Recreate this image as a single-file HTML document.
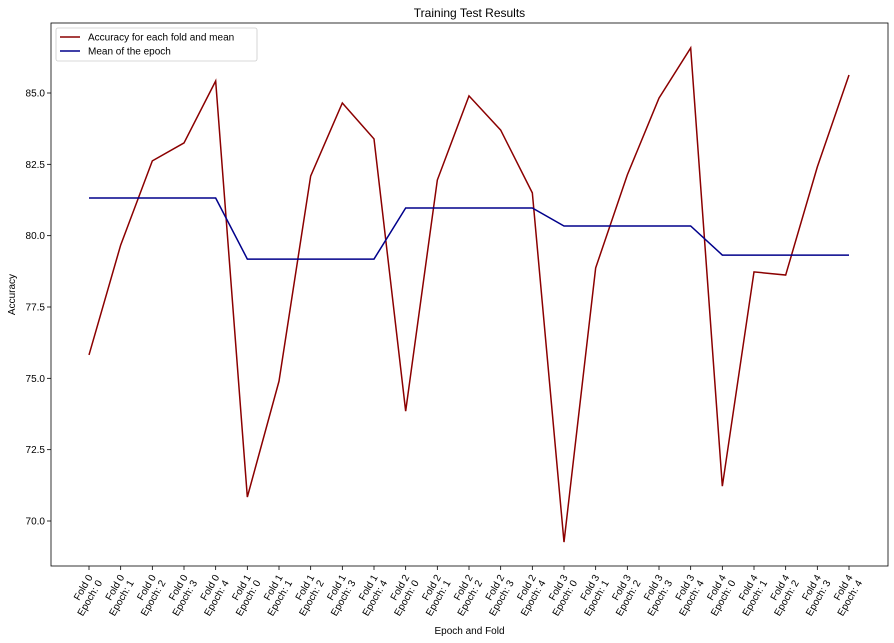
<!DOCTYPE html>
<html><head><meta charset="utf-8"><style>
body{margin:0;background:#fff;}
svg{display:block;font-family:"Liberation Sans",sans-serif;}
</style></head><body>
<svg id="chart" width="894" height="643" viewBox="0 0 894 643"></svg>
<script>
const categories = [];
for (let f = 0; f < 5; f++) for (let e = 0; e < 5; e++) categories.push(["Fold " + f, "Epoch: " + e]);
const accuracy = [75.82,79.67,82.62,83.25,85.42, 70.84,74.9,82.09,84.65,83.39, 73.85,81.95,84.9,83.7,81.5, 69.26,78.87,82.13,84.82,86.58, 71.22,78.73,78.62,82.41,85.63];
const foldMeans = [81.32,79.18,80.97,80.34,79.32];
const yTicks = [70.0,72.5,75.0,77.5,80.0,82.5,85.0];
const meanSeries = accuracy.map((_, i) => foldMeans[Math.floor(i / 5)]);

const NS = "http://www.w3.org/2000/svg";
const svg = document.getElementById("chart");
const L = 51, R = 888, T = 23, B = 566;
const x = i => 89 + i * (849 - 89) / (categories.length - 1);
const y = v => 93 + (85 - v) * (521 - 93) / 15;
function mk(tag, attrs, parent) {
  const el = document.createElementNS(NS, tag);
  for (const k in attrs) el.setAttribute(k, attrs[k]);
  (parent || svg).appendChild(el);
  return el;
}
const title = mk("text", {x: (L + R) / 2, y: 17, "text-anchor": "middle", "font-size": 12});
title.textContent = "Training Test Results";



const frame = mk("rect", {x: L, y: T, width: R - L, height: B - T, fill: "none", stroke: "#000", "stroke-width": 0.8});



yTicks.forEach(t => {
  const g = mk("g", {});
  
  
  mk("line", {x1: L - 4, x2: L, y1: y(t), y2: y(t), stroke: "#000", "stroke-width": 0.8}, g);
  const tx = mk("text", {x: L - 6, y: y(t) + 3.5, "text-anchor": "end", "font-size": 10}, g);
  tx.textContent = t.toFixed(1);
});
categories.forEach((c, i) => {
  const g = mk("g", {});
  
  
  mk("line", {x1: x(i), x2: x(i), y1: B, y2: B + 4, stroke: "#000", "stroke-width": 0.8}, g);
  const tx = mk("text", {"text-anchor": "end", "font-size": 10, transform: `translate(${x(i) + 4},${B + 11}) rotate(-60)`}, g);
  const t1 = mk("tspan", {x: 0, dy: 0}, tx); t1.textContent = c[0];
  const t2 = mk("tspan", {x: 0, dy: 11}, tx); t2.textContent = c[1];
});
const xl = mk("text", {x: (L + R) / 2, y: 634, "text-anchor": "middle", "font-size": 10});
xl.textContent = "Epoch and Fold";


const yl = mk("text", {"text-anchor": "middle", "font-size": 10, transform: `translate(15,${(T + B) / 2}) rotate(-90)`});
yl.textContent = "Accuracy";



const accLine = mk("polyline", {points: accuracy.map((v, i) => x(i) + "," + y(v)).join(" "), fill: "none", stroke: "#8b0000", "stroke-width": 1.5});


const meanLine = mk("polyline", {points: meanSeries.map((v, i) => x(i) + "," + y(v)).join(" "), fill: "none", stroke: "#00008b", "stroke-width": 1.5});



const lg = mk("g", {});


mk("rect", {x: 56, y: 28, width: 201, height: 33, rx: 2, fill: "#fff", stroke: "#ccc", "stroke-width": 0.8}, lg);
[["Accuracy for each fold and mean", "#8b0000", 37], ["Mean of the epoch", "#00008b", 51]].forEach(([label, col, yy]) => {
  const e = mk("g", {}, lg);
  
  
  mk("line", {x1: 60, x2: 80, y1: yy, y2: yy, stroke: col, "stroke-width": 1.5}, e);
  const t = mk("text", {x: 88, y: yy + 3.5, "font-size": 10}, e);
  t.textContent = label;
});
</script>
</body></html>
